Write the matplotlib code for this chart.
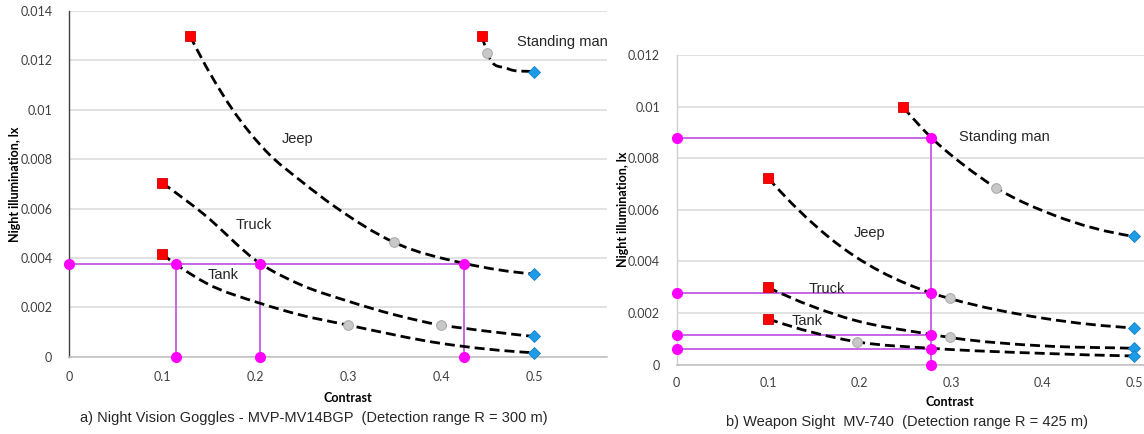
import numpy as np
import matplotlib
matplotlib.use("Agg")
import matplotlib.pyplot as plt
from matplotlib.path import Path
from matplotlib.patches import PathPatch

# ---------------- data : panel a (Night Vision Goggles) ----------------
a_man_x = [0.444, 0.450, 0.471, 0.500]
a_man_y = [0.0130, 0.01228, 0.01168, 0.01154]
a_jeep_x = [0.130, 0.176, 0.2125, 0.250, 0.285, 0.349, 0.425, 0.500]
a_jeep_y = [0.0130, 0.0100, 0.0083, 0.0071, 0.0061, 0.00464, 0.00378, 0.00335]
a_truck_x = [0.100, 0.144, 0.2054, 0.250, 0.300, 0.350, 0.400, 0.425, 0.500]
a_truck_y = [0.00704, 0.0058, 0.00378, 0.0029, 0.00225, 0.0017, 0.00128, 0.00115, 0.00082]
a_tank_x = [0.100, 0.1147, 0.148, 0.205, 0.248, 0.300, 0.400, 0.500]
a_tank_y = [0.00416, 0.00375, 0.00297, 0.00217, 0.0017, 0.00128, 0.00054, 0.00016]
a_grey_idx = [1, 5, 6, 5]          # man, jeep, truck, tank
a_level = 0.00376
a_cross_x = [0.1147, 0.2054, 0.4247]

# ---------------- data : panel b (Weapon Sight) ----------------
b_man_x = [0.2478, 0.2777, 0.314, 0.3488, 0.4125, 0.500]
b_man_y = [0.00998, 0.00882, 0.00773, 0.00686, 0.00579, 0.00497]
b_jeep_x = [0.100, 0.1676, 0.2777, 0.2985, 0.4016, 0.500]
b_jeep_y = [0.00723, 0.0049, 0.00278, 0.00256, 0.00179, 0.00142]
b_truck_x = [0.100, 0.194, 0.2777, 0.2985, 0.4016, 0.500]
b_truck_y = [0.00299, 0.00172, 0.00117, 0.00105, 0.00072, 0.00063]
b_tank_x = [0.100, 0.197, 0.2777, 0.4016, 0.500]
b_tank_y = [0.00177, 0.00088, 0.00063, 0.00043, 0.00033]
b_grey_idx = [3, 3, 3, 1]
b_cross_x = 0.2777
b_levels = [0.0088, 0.00278, 0.00116, 0.00062]

labels = ["Standing man", "Jeep", "Truck", "Tank"]
a_label_pos = [(0.4817, 0.01275), (0.246, 0.00881), (0.199, 0.00533), (0.1656, 0.00331)]
b_label_pos = [(0.3087, 0.00882), (0.2108, 0.00508), (0.164, 0.00291), (0.1428, 0.0017)]

x_ticks = [0, 0.1, 0.2, 0.3, 0.4, 0.5]
x_ticklabels = ["0", "0.1", "0.2", "0.3", "0.4", "0.5"]
a_y_ticks = [0, 0.002, 0.004, 0.006, 0.008, 0.01, 0.012, 0.014]
a_y_ticklabels = ["0", "0.002", "0.004", "0.006", "0.008", "0.01", "0.012", "0.014"]
b_y_ticks = [0, 0.002, 0.004, 0.006, 0.008, 0.01, 0.012]
b_y_ticklabels = ["0", "0.002", "0.004", "0.006", "0.008", "0.01", "0.012"]

caption_a = "a) Night Vision Goggles - MVP-MV14BGP  (Detection range R = 300 m)"
caption_b = "b) Weapon Sight  MV-740  (Detection range R = 425 m)"

# ---------------- style ----------------
TXT = "Liberation Sans"
TICK = "Lato"
RED = "#ff0000"
GREY = "#c8c8c8"
BLUE = "#1e9be6"
MAG = "#ff00ff"
PURP = "#c04ce0"
GRID = "#d9d9d9"

W, H = 1144, 434
fig = plt.figure(figsize=(W / 100, H / 100), dpi=100)


def smooth_path(xs, ys):
    """Smooth curve through the points as cubic Bezier (Hermite) segments."""
    n = len(xs)
    h = [xs[i + 1] - xs[i] for i in range(n - 1)]
    s = [(ys[i + 1] - ys[i]) / h[i] for i in range(n - 1)]
    m = [0.0] * n
    m[0] = s[0]
    m[-1] = s[-1]
    for i in range(1, n - 1):
        m[i] = (h[i] * s[i - 1] + h[i - 1] * s[i]) / (h[i - 1] + h[i])
    if n > 2:
        m[0] = 2 * s[0] - m[1] if (2 * s[0] - m[1]) * s[0] > 0 else s[0]
        m[-1] = 2 * s[-1] - m[-2] if (2 * s[-1] - m[-2]) * s[-1] > 0 else s[-1]
    verts = [(xs[0], ys[0])]
    codes = [Path.MOVETO]
    for i in range(n - 1):
        d = h[i] / 3
        verts += [(xs[i] + d, ys[i] + m[i] * d),
                  (xs[i + 1] - d, ys[i + 1] - m[i + 1] * d),
                  (xs[i + 1], ys[i + 1])]
        codes += [Path.CURVE4] * 3
    return Path(verts, codes)


def setup(ax, xmax, ymax, yticks, yticklabels, left_spine_color, xpad):
    ax.set_xlim(0, xmax)
    ax.set_ylim(0, ymax)
    ax.set_xticks(x_ticks)
    ax.set_xticklabels(x_ticklabels, fontfamily=TICK, fontsize=9, color="#404040")
    ax.set_yticks(yticks)
    ax.set_yticklabels(yticklabels, fontfamily=TICK, fontsize=9, color="#404040")
    ax.tick_params(length=0)
    ax.tick_params(axis="y", pad=12)
    ax.tick_params(axis="x", pad=xpad)
    ax.yaxis.grid(True, color=GRID, lw=1.1)
    ax.set_axisbelow(True)
    for sp in ["top", "right"]:
        ax.spines[sp].set_visible(False)
    ax.spines["left"].set_color(left_spine_color)
    ax.spines["left"].set_linewidth(1.0)
    ax.spines["bottom"].set_color("#bdbdbd")
    ax.spines["bottom"].set_linewidth(1.1)
    ax.set_xlabel("Contrast", fontfamily=TICK, fontweight="bold", fontsize=9)
    ax.set_ylabel("Night illumination, lx", fontfamily=TICK, fontweight="bold", fontsize=9)


def draw_curves(ax, series, grey_idx, label_pos):
    for (xs, ys), gi, lab, (lx, ly) in zip(series, grey_idx, labels, label_pos):
        ax.add_patch(PathPatch(smooth_path(xs, ys), fill=False, ec="black", lw=2.0,
                               ls=(0, (3.6, 1.8)), zorder=3))
        ax.plot([xs[0]], [ys[0]], ls="none", marker="s", ms=7.4, mfc=RED,
                mec="#d00000", mew=0.6, zorder=5, clip_on=False)
        ax.plot([xs[gi]], [ys[gi]], ls="none", marker="o", ms=7.0, mfc=GREY,
                mec="#a8a8a8", mew=0.7, zorder=5, clip_on=False)
        ax.plot([xs[-1]], [ys[-1]], ls="none", marker="D", ms=6.4, mfc=BLUE,
                mec="#1580c8", mew=0.6, zorder=5, clip_on=False)
        ax.text(lx, ly, lab, fontfamily=TXT, fontsize=10.5, color="#262626",
                ha="left" if lab == "Standing man" else "center", va="center",
                zorder=6, clip_on=False)


# ---------------- panel a ----------------
a_w, a_h = 607 - 69, 356.7 - 11
axA = fig.add_axes([69 / W, (H - 356.7) / H, a_w / W, a_h / H])
setup(axA, 0.5785, 0.014, a_y_ticks, a_y_ticklabels, "#404040", 10)
axA.yaxis.set_label_coords((21 - 69) / a_w, 0.5)
axA.xaxis.set_label_coords((348 - 69) / a_w, -(392 - 356.7) / a_h)
axA.plot([0, max(a_cross_x)], [a_level, a_level], color=PURP, lw=1.2, zorder=2)
for cx in a_cross_x:
    axA.plot([cx, cx], [0, a_level], color=PURP, lw=1.2, zorder=2)
axA.plot([0] + a_cross_x + a_cross_x, [a_level] * 4 + [0] * 3, ls="none", marker="o",
         ms=7, color=MAG, zorder=6, clip_on=False)
draw_curves(axA, [(a_man_x, a_man_y), (a_jeep_x, a_jeep_y), (a_truck_x, a_truck_y),
                  (a_tank_x, a_tank_y)], a_grey_idx, a_label_pos)

# ---------------- panel b ----------------
b_w, b_h = W - 676.7, 364.5 - 55
axB = fig.add_axes([676.7 / W, (H - 364.5) / H, b_w / W, b_h / H])
setup(axB, 0.511, 0.012, b_y_ticks, b_y_ticklabels, "#d0d0d0", 9)
axB.yaxis.set_label_coords((629 - 676.7) / b_w, 0.5)
axB.xaxis.set_label_coords((949.7 - 676.7) / b_w, -(396 - 364.5) / b_h)
for lv in b_levels:
    axB.plot([0, b_cross_x], [lv, lv], color=PURP, lw=1.2, zorder=2)
axB.plot([b_cross_x, b_cross_x], [0, max(b_levels)], color=PURP, lw=1.2, zorder=2)
axB.plot([0] * 4 + [b_cross_x] * 5, b_levels + b_levels + [0], ls="none", marker="o",
         ms=7, color=MAG, zorder=6, clip_on=False)
draw_curves(axB, [(b_man_x, b_man_y), (b_jeep_x, b_jeep_y), (b_truck_x, b_truck_y),
                  (b_tank_x, b_tank_y)], b_grey_idx, b_label_pos)

# ---------------- captions ----------------
fig.text(313.5 / W, 1 - 418 / H, caption_a, fontfamily=TXT, fontsize=10.5,
         ha="center", va="center", color="#262626")
fig.text(907 / W, 1 - 421.7 / H, caption_b, fontfamily=TXT, fontsize=10.5,
         ha="center", va="center", color="#262626")

fig.savefig("out.png", dpi=100)
